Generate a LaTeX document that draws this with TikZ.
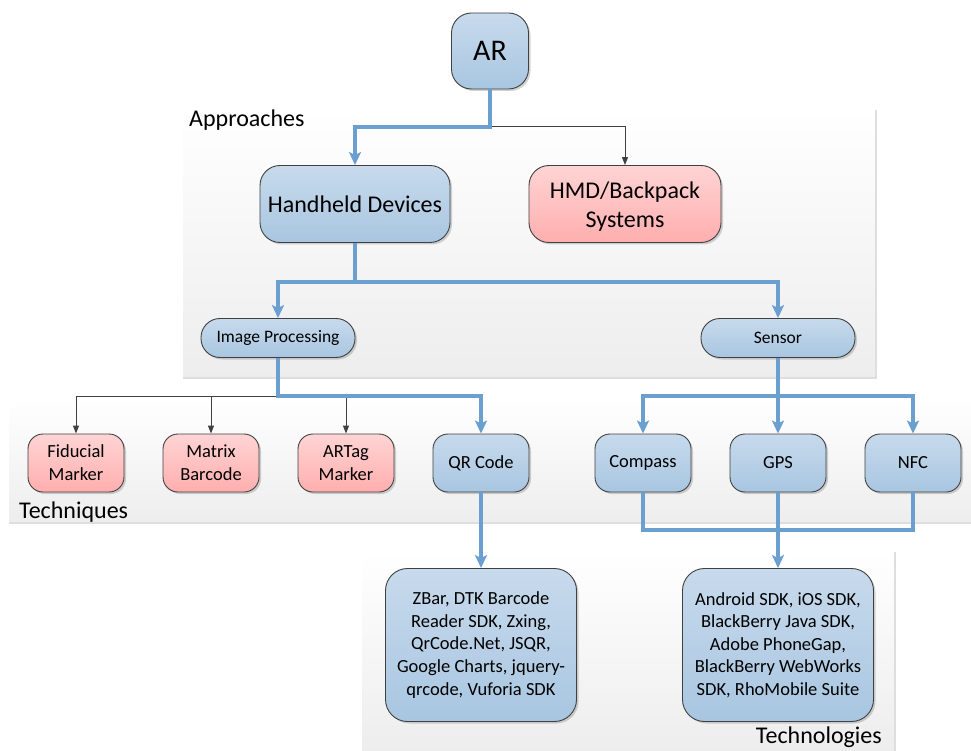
\documentclass[tikz,border=0pt]{standalone}
\usepackage{fontspec}
\setmainfont{Carlito}
\usetikzlibrary{arrows.meta,shadows,calc}
\definecolor{lineblue}{RGB}{106,159,208}
\definecolor{edgegray}{RGB}{64,64,64}
\definecolor{bluetop}{RGB}{200,218,236}
\definecolor{bluebot}{RGB}{168,198,225}
\definecolor{pinktop}{RGB}{255,212,212}
\definecolor{pinkbot}{RGB}{255,174,174}
\tikzset{
  basebox/.style={draw=edgegray, line width=0.9pt, align=center, inner sep=2pt,
    drop shadow={opacity=0.35, shadow xshift=2pt, shadow yshift=-2pt}},
  bluebox/.style={basebox, top color=bluetop, bottom color=bluebot},
  pinkbox/.style={basebox, top color=pinktop, bottom color=pinkbot},
  bigfont/.style={font=\fontsize{24}{29}\selectfont},
  smallfont/.style={font=\fontsize{18.5}{23}\selectfont},
  listfont/.style={font=\fontsize{18.5}{22.6}\selectfont},
  technode/.style={minimum width=96pt, minimum height=58pt, rounded corners=15pt, smallfont},
  bluelink/.style={draw=lineblue, line width=4pt},
  bluearrow/.style={bluelink, -{Stealth[length=13pt,width=12pt,inset=3pt]}},
  thinarrow/.style={draw=edgegray, line width=1pt, -{Triangle[length=8pt,width=6pt]}},
  panel/.style={top color=white, bottom color=black!7, draw=none},
  paneledge/.style={draw=black!13, line width=2pt},
  sectionlabel/.style={bigfont, inner sep=0pt}
}
\begin{document}
\begin{tikzpicture}[x=1pt,y=-1pt]
\useasboundingbox (0,0) rectangle (971,751);
% panels
\shade[panel] (183,108) rectangle (876,378);
\draw[paneledge] (876,110) -- (876,378) -- (183,378);
\shade[panel] (9,398) rectangle (971,523);
\draw[paneledge] (9,523) -- (971,523);
\shade[panel] (362,552) rectangle (895,751);
\draw[paneledge] (895,552) -- (895,751);
% labels
\node[sectionlabel, anchor=west] (lapp) at (189,120) {Approaches};
\node[sectionlabel, anchor=west] (ltech) at (19,512) {Techniques};
\node[sectionlabel, anchor=east] (ltechn) at (882,737) {Technologies};
% nodes
\node[bluebox, minimum width=77pt, minimum height=76pt, rounded corners=20pt,
      font=\fontsize{30}{36}\selectfont] (AR) at (490,51) {AR};
\node[bluebox, minimum width=190pt, minimum height=77pt, rounded corners=20pt, bigfont] (HD) at (355,204) {Handheld Devices};
\node[pinkbox, minimum width=192pt, minimum height=77pt, rounded corners=20pt] (HMD) at (625,204) {};
\node[bigfont, align=center, inner sep=0pt] (HMDtext) at (625,207) {HMD/Backpack\\Systems};
\node[bluebox, minimum width=154pt, minimum height=39pt, rounded corners=19pt, font=\fontsize{17.5}{21}\selectfont] (IP) at (278,338) {Image Processing};
\node[bluebox, minimum width=154pt, minimum height=39pt, rounded corners=19pt, font=\fontsize{17.5}{21}\selectfont] (SE) at (778,338) {Sensor};
\node[pinkbox, technode] (FM) at (76,463) {Fiducial\\Marker};
\node[pinkbox, technode] (MB) at (211,463) {Matrix\\Barcode};
\node[pinkbox, technode] (AT) at (346,463) {ARTag\\Marker};
\node[bluebox, technode] (QR) at (481,463) {QR Code};
\node[bluebox, technode] (CO) at (643,463) {Compass};
\node[bluebox, technode] (GP) at (778,463) {GPS};
\node[bluebox, technode] (NF) at (913,463) {NFC};
\node[bluebox, minimum width=191pt, minimum height=153pt, rounded corners=22pt, listfont] (ZB) at (481,645)
  {ZBar, DTK Barcode\\Reader SDK, Zxing,\\QrCode.Net, JSQR,\\Google Charts, jquery-\\qrcode, Vuforia SDK};
\node[bluebox, minimum width=191pt, minimum height=153pt, rounded corners=22pt, listfont] (AN) at (778,645)
  {Android SDK, iOS SDK,\\BlackBerry Java SDK,\\Adobe PhoneGap,\\BlackBerry WebWorks\\SDK, RhoMobile Suite};
% junctions
\coordinate (j1) at (AR.south |- 0,127);
\coordinate (j2) at (HD.south |- 0,282);
\coordinate (j3) at (IP.south |- 0,396);
\coordinate (j4) at (SE.south |- 0,396);
\coordinate (j5) at (GP.south |- 0,530);
% connectors
\draw[thinarrow] (j1) -| (HMD.north);
\draw[bluearrow] (AR.south) -- (j1) -| (HD.north);
\draw[bluearrow] (HD.south) -- (j2) -| (IP.north);
\draw[bluearrow] (j2) -| (SE.north);
\draw[thinarrow] (j3) -| (FM.north);
\draw[thinarrow] (j3) -| (MB.north);
\draw[thinarrow] (j3) -| (AT.north);
\draw[bluearrow] (IP.south) -- (j3) -| (QR.north);
\draw[bluearrow] (SE.south) -- (GP.north);
\draw[bluearrow] (j4) -| (CO.north);
\draw[bluearrow] (j4) -| (NF.north);
\draw[bluelink] (CO.south) |- (j5);
\draw[bluelink] (NF.south) |- (j5);
\draw[bluearrow] (GP.south) -- (AN.north);
\draw[bluearrow] (QR.south) -- (ZB.north);
\end{tikzpicture}
\end{document}
